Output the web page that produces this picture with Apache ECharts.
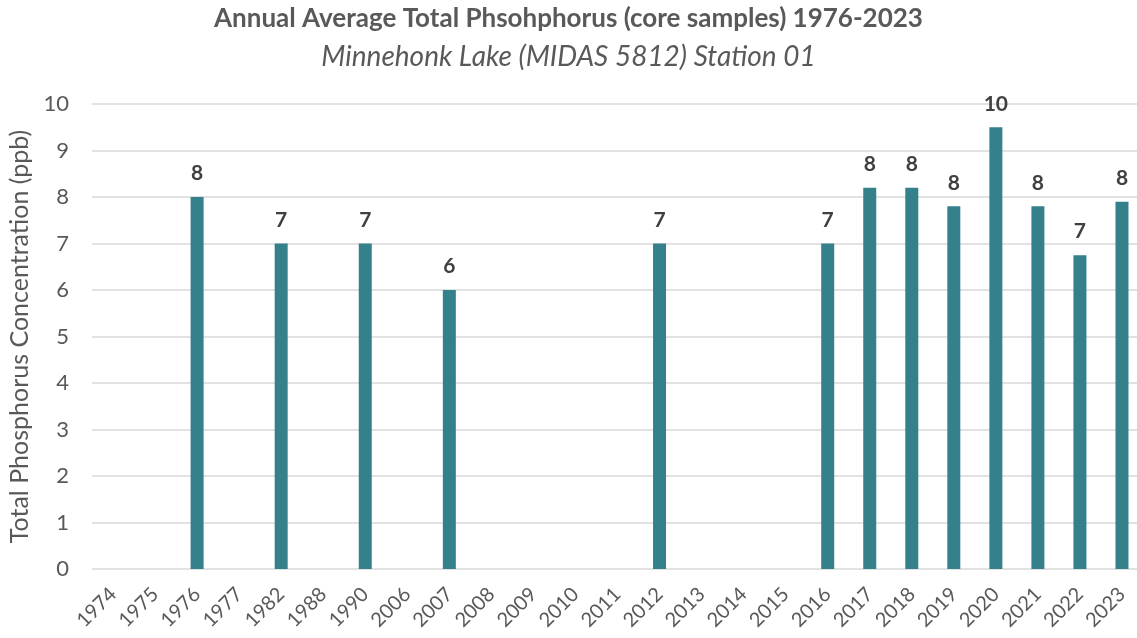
<!DOCTYPE html>
<html>
<head>
<meta charset="utf-8">
<script src="https://cdn.jsdelivr.net/npm/echarts@6/dist/echarts.min.js"></script>
<style>
  html, body { margin: 0; padding: 0; background: #fff; }
  #main { width: 1137px; height: 638px; }
</style>
</head>
<body>
<div id="main"></div>
<script>
var myChart = echarts.init(document.getElementById('main'));

// years on the x axis (Excel category axis, uneven gaps)
const years = ['1974', '1975', '1976', '1977', '1982', '1988', '1990', '2006', '2007', '2008',
  '2009', '2010', '2011', '2012', '2013', '2014', '2015', '2016', '2017', '2018',
  '2019', '2020', '2021', '2022', '2023'];

// annual average TP, ppb ('-' = no sample)
const tpValues = ['-', '-', 8, '-', 7, '-', 7, '-', 6, '-',
  '-', '-', '-', 7, '-', '-', '-', 7, 8.2, 8.2,
  7.8, 9.5, 7.8, 6.75, 7.9];

const yTicks = [0, 10, 1]; // min, max, step

const font = 'Lato, "Open Sans", sans-serif';

const option = {
  title: [
    {
      text: 'Annual Average Total Phsohphorus (core samples) 1976-2023',
      left: 'center',
      top: 1,
      textStyle: { fontFamily: font, fontSize: 26, fontWeight: 'bold', color: '#595959' }
    },
    {
      text: 'Minnehonk Lake (MIDAS 5812) Station 01',
      left: 'center',
      top: 38,
      textStyle: { fontFamily: font, fontSize: 28, fontWeight: 'normal', fontStyle: 'italic', color: '#595959' }
    }
  ],
  grid: {
    left: 92,
    top: 104,
    width: 1051,
    height: 465,
    outerBoundsMode: 'none'
  },
  xAxis: {
    type: 'category',
    data: years,
    axisLine: { show: false },
    axisTick: { show: false },
    axisLabel: {
      interval: 0,
      rotate: 45,
      margin: 22,
      fontFamily: font,
      fontSize: 20,
      color: '#595959'
    }
  },
  yAxis: {
    type: 'value',
    min: yTicks[0],
    max: yTicks[1],
    interval: yTicks[2],
    name: 'Total Phosphorus Concentration (ppb)',
    nameLocation: 'middle',
    nameGap: 60,
    nameTextStyle: { fontFamily: font, fontSize: 25, color: '#595959' },
    axisLine: { show: false },
    axisTick: { show: false },
    axisLabel: { fontFamily: font, fontSize: 22, color: '#595959', margin: 23 },
    splitLine: { lineStyle: { color: '#d9d9d9', width: 1.5 } }
  },
  series: [
    {
      type: 'bar',
      data: tpValues,
      barWidth: 13,
      itemStyle: { color: '#35818b' },
      label: {
        show: true,
        position: 'top',
        distance: 13,
        fontFamily: font,
        fontSize: 21,
        fontWeight: 'bold',
        color: '#404040',
        formatter: function (p) { return Math.round(p.value); }
      }
    }
  ]
};

myChart.setOption(option);
</script>
</body>
</html>
